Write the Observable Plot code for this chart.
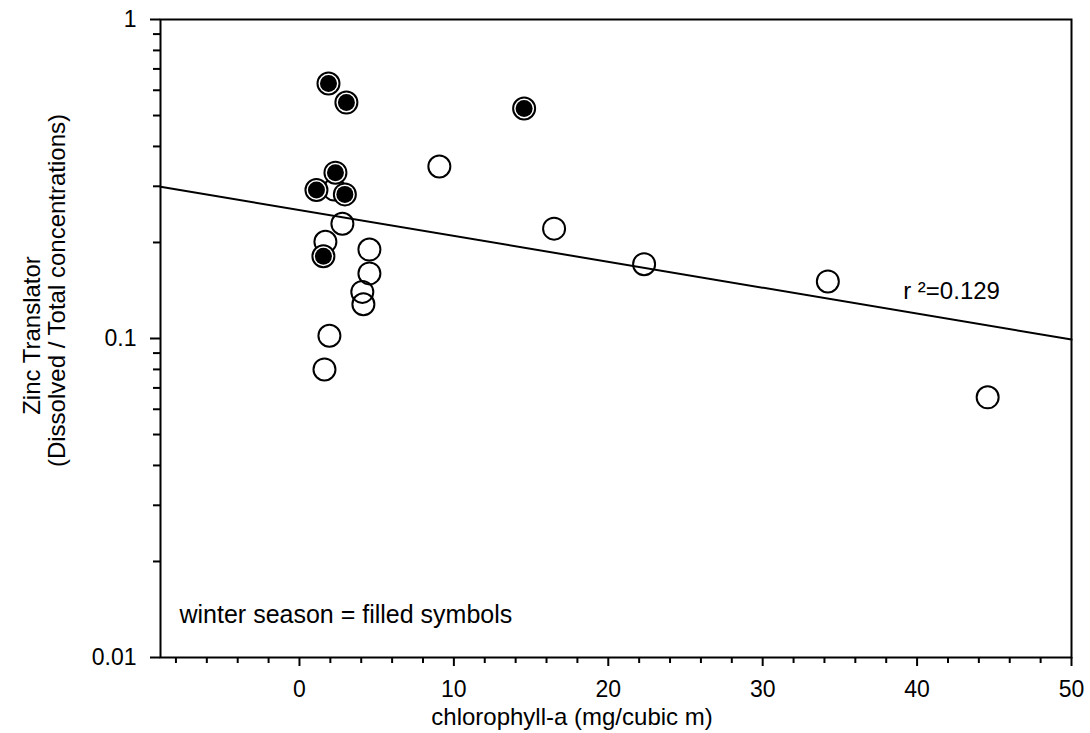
<!DOCTYPE html>
<html><head><meta charset="utf-8">
<script src="https://cdn.jsdelivr.net/npm/d3@7"></script>
<script src="https://cdn.jsdelivr.net/npm/@observablehq/plot@0.6"></script>
<style>body{margin:0;background:#fff}</style>
</head><body><div id="chart"></div>
<script>
// Open symbols (non-winter samples)
const openX = [2.26, 2.78, 1.68, 4.53, 4.53, 4.07, 4.14, 1.94, 1.62, 9.06, 16.49, 22.32, 34.22, 44.57];
const openY = [0.293, 0.229, 0.201, 0.190, 0.160, 0.140, 0.128, 0.102, 0.080, 0.346, 0.221, 0.171, 0.151, 0.0654];
// Filled symbols (winter season)
const winterX = [1.88, 3.04, 2.33, 1.10, 2.94, 1.55, 14.55];
const winterY = [0.630, 0.549, 0.331, 0.292, 0.283, 0.181, 0.526];
// Regression line end points
const fitX = [-9, 50];
const fitY = [0.299, 0.0993];
// Ticks
const xMajorTicks = [0, 10, 20, 30, 40, 50];
const xMinorTicks = [-8, -6, -4, -2, 2, 4, 6, 8, 12, 14, 16, 18, 22, 24, 26, 28, 32, 34, 36, 38, 42, 44, 46, 48];
const yMajorTicks = [0.01, 0.1, 1];
const yMinorTicks = [0.02, 0.03, 0.04, 0.05, 0.06, 0.07, 0.08, 0.09, 0.2, 0.3, 0.4, 0.5, 0.6, 0.7, 0.8, 0.9];
// Texts
const xTitle = "chlorophyll-a (mg/cubic m)";
const yTitle1 = "Zinc Translator";
const yTitle2 = "(Dissolved / Total concentrations)";
const noteText = "winter season = filled symbols";
const r2Text = "r \u00B2=0.129";
const r2X = 39.1, r2Y = 0.141;

const openData = openX.map((x, i) => ({x, y: openY[i]}));
const winterData = winterX.map((x, i) => ({x, y: winterY[i]}));
const fitData = fitX.map((x, i) => ({x, y: fitY[i]}));

const chart = Plot.plot({
  width: 1090,
  height: 733,
  marginLeft: 160,
  marginRight: 19,
  marginTop: 19,
  marginBottom: 76,
  style: {fontFamily: "'Liberation Sans', Arial, sans-serif", fontSize: "23px", background: "white", color: "black", overflow: "visible"},
  x: {type: "linear", domain: [-9, 50], label: null},
  y: {type: "log", domain: [0.01, 1], label: null},
  marks: [
    Plot.axisX({ticks: xMajorTicks, tickSize: 9, tickPadding: 14, strokeWidth: 2, label: null, tickFormat: d => String(d), fontSize: 23}),
    Plot.axisX({ticks: xMinorTicks, tickSize: 6, strokeWidth: 2, label: null, tickFormat: () => ""}),
    Plot.axisY({ticks: yMajorTicks, tickSize: 10, tickPadding: 14, strokeWidth: 2, label: null, tickFormat: d => String(d), fontSize: 23}),
    Plot.axisY({ticks: yMinorTicks, tickSize: 7, strokeWidth: 2, label: null, tickFormat: () => ""}),
    Plot.frame({stroke: "black", strokeWidth: 2}),
    Plot.line(fitData, {x: "x", y: "y", stroke: "black", strokeWidth: 2}),
    Plot.dot(openData, {x: "x", y: "y", r: 11, fill: "none", stroke: "black", strokeWidth: 2}),
    Plot.dot(winterData, {x: "x", y: "y", r: 11, fill: "white", stroke: "black", strokeWidth: 2}),
    Plot.dot(winterData, {x: "x", y: "y", r: 8.5, fill: "black", stroke: "none"}),
    Plot.text([r2Text], {x: () => r2X, y: () => r2Y, text: d => d, textAnchor: "start", lineAnchor: "middle", fontSize: 24}),
    Plot.text([noteText], {frameAnchor: "bottom-left", text: d => d, textAnchor: "start", lineAnchor: "bottom", dx: 19, dy: -35, fontSize: 25}),
    Plot.text([xTitle], {frameAnchor: "bottom", text: d => d, textAnchor: "middle", lineAnchor: "bottom", dx: -44, dy: 67, fontSize: 24}),
    Plot.text([yTitle1], {frameAnchor: "left", text: d => d, rotate: -90, textAnchor: "middle", lineAnchor: "bottom", dx: -121, dy: -3, fontSize: 24}),
    Plot.text([yTitle2], {frameAnchor: "left", text: d => d, rotate: -90, textAnchor: "middle", lineAnchor: "bottom", dx: -96, dy: -48, fontSize: 24})
  ]
});
document.getElementById("chart").appendChild(chart);
</script>
</body></html>
